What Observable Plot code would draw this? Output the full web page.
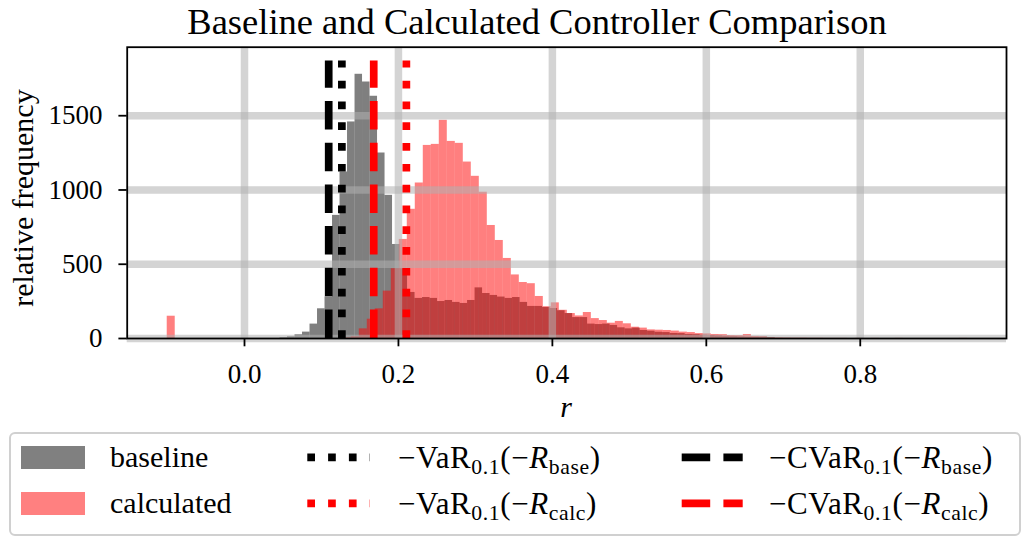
<!DOCTYPE html>
<html><head><meta charset="utf-8">
<script src="https://cdn.jsdelivr.net/npm/d3@7"></script>
<script src="https://cdn.jsdelivr.net/npm/@observablehq/plot@0.6"></script>
<style>
body{margin:0;background:#fff;font-family:"Liberation Serif",serif;color:#000;}
#wrap{width:1036px;height:538px;position:relative;overflow:hidden;}
#title{position:relative;height:44px;}
#title span{position:absolute;left:537px;top:4px;transform:translateX(-50%);font-size:36.5px;line-height:1;white-space:nowrap;}
#chart{height:384px;}
#chart svg{display:block;}
#legend{position:relative;height:110px;}
#legend .box{position:absolute;left:9px;top:3.5px;width:1012px;height:104.5px;border:2px solid #d0d0d0;border-radius:6px;box-sizing:border-box;background:rgba(255,255,255,0.8);}
#legend .patch{position:absolute;left:21px;width:64px;height:22.7px;}
#legend .txt{position:absolute;font-size:30px;line-height:1;white-space:nowrap;transform:translateY(-50%);}
#legend .math{font-size:31px;letter-spacing:0.6px;}
#legend sub{font-size:0.7em;vertical-align:-0.3em;line-height:0;}
#legend svg{position:absolute;overflow:visible;}
</style></head>
<body><div id="wrap">
<div id="title"><span>Baseline and Calculated Controller Comparison</span></div>
<div id="chart"></div>
<div id="legend"></div>
</div>
<script>
// ---- data ----
const baselineStart = 0.04613;
const baselineWidth = 0.009747;
const baselineCounts = [5, 12, 25, 43, 97, 200, 280, 829, 1121, 1458, 1779, 1727, 1631, 1249, 964, 633, 470, 310,
  270, 276, 270, 249, 256, 243, 236, 256, 341, 303, 290, 279, 270, 276, 243, 216, 216, 209, 202, 187, 168, 141, 141,
  97, 94, 97, 88, 72, 65, 70, 54, 49, 42, 40, 34, 33, 27, 26, 22, 20, 18, 15, 13, 11, 9, 8, 9, 7];
const calcStart = -0.1004;
const calcWidth = 0.010396;
const calcCounts = [150, 0, 0, 0, 0, 0, 0, 0, 0, 0, 0, 0, 0, 0, 0, 0, 0, 0, 0, 0, 0,
  0, 5, 12, 65, 130, 200, 319, 470, 667, 870, 1047, 1300, 1307, 1469, 1327, 1314, 1188, 1092, 985,
  761, 660, 539, 428, 377, 369, 283, 214, 240, 190, 168, 152, 175, 134, 121, 103, 115, 99, 76, 70,
  58, 56, 54, 50, 43, 40, 33, 31, 27, 26, 20, 19, 27, 14, 12, 6, 5, 4, 3, 3,
  2, 2, 1, 1, 1, 0, 1, 0, 1, 0, 0, 1, 0, 0, 0, 0, 0, 0, 0, 1];
const varBase = 0.1265, cvarBase = 0.1094, varCalc = 0.2103, cvarCalc = 0.1679;
const xTicks = [0, 0.2, 0.4, 0.6, 0.8];
const yTicks = [0, 500, 1000, 1500];
const xDomain = [-0.1524, 0.990];

// ---- build ----
const baseRows = baselineCounts.map((c, i) => ({x1: baselineStart + i * baselineWidth, x2: baselineStart + (i + 1) * baselineWidth, y: c}));
const calcRows = calcCounts.map((c, i) => ({x1: calcStart + i * calcWidth, x2: calcStart + (i + 1) * calcWidth, y: c}));
const lineTop = d3.max([...baselineCounts, ...calcCounts]) * 1.05;
const yTop = lineTop * 1.05;
const LW = 7.7, DASH = "28.5,13.2", DOT = "7.7,13.1";
const gridStyle = {stroke: "#b0b0b0", strokeOpacity: 0.55, strokeWidth: 7.5};

const plot = Plot.plot({
  width: 1036, height: 384,
  marginLeft: 126.7, marginRight: 30, marginTop: 2.7, marginBottom: 90,
  x: {domain: xDomain}, y: {domain: [0, yTop]},
  style: {fontFamily: "Liberation Serif", background: "transparent", color: "black"},
  marks: [
    Plot.rectY(baseRows, {x1: "x1", x2: "x2", y: "y", fill: "black", fillOpacity: 0.5}),
    Plot.rectY(calcRows, {x1: "x1", x2: "x2", y: "y", fill: "red", fillOpacity: 0.5}),
    Plot.gridX(xTicks, gridStyle),
    Plot.gridY(yTicks, gridStyle),
    Plot.ruleX([cvarBase], {y1: 0, y2: lineTop, stroke: "black", strokeWidth: LW, strokeDasharray: DASH}),
    Plot.ruleX([varBase], {y1: 0, y2: lineTop, stroke: "black", strokeWidth: LW, strokeDasharray: DOT}),
    Plot.ruleX([cvarCalc], {y1: 0, y2: lineTop, stroke: "red", strokeWidth: LW, strokeDasharray: DASH}),
    Plot.ruleX([varCalc], {y1: 0, y2: lineTop, stroke: "red", strokeWidth: LW, strokeDasharray: DOT}),
    Plot.frame({stroke: "black", strokeWidth: 1.8}),
    Plot.axisX(xTicks, {tickSize: 8.3, tickPadding: 17, tickFormat: d3.format(".1f"), fontSize: 27, strokeWidth: 1.8, label: null}),
    Plot.axisY(yTicks, {tickSize: 8.3, tickPadding: 16.5, tickFormat: d3.format("d"), fontSize: 27, strokeWidth: 1.8, label: null})
  ]
});
document.getElementById("chart").appendChild(plot);
const svg = d3.select(plot);
svg.append("text").attr("transform", "translate(33,154) rotate(-90)")
  .attr("text-anchor", "middle").attr("font-size", 30).attr("font-family", "Liberation Serif")
  .text("relative frequency");
svg.append("text").attr("x", 566).attr("y", 373).attr("text-anchor", "middle")
  .attr("font-size", 30).attr("font-style", "italic").attr("font-family", "Liberation Serif").text("r");

// ---- legend ----
const leg = d3.select("#legend");
leg.append("div").attr("class", "box");
const rows = [29.3, 75.3];
leg.append("div").attr("class", "patch").style("top", (rows[0] - 11.35) + "px").style("background", "#808080");
leg.append("div").attr("class", "patch").style("top", (rows[1] - 11.35) + "px").style("background", "#ff8080");
leg.append("div").attr("class", "txt").style("left", "110px").style("top", rows[0] + "px").text("baseline");
leg.append("div").attr("class", "txt").style("left", "110px").style("top", rows[1] + "px").text("calculated");
function legLine(x1, x2, y, color, dash) {
  const s = leg.append("svg").attr("width", 1).attr("height", 1).style("left", "0px").style("top", "0px");
  s.append("line").attr("x1", x1).attr("x2", x2).attr("y1", y).attr("y2", y)
    .attr("stroke", color).attr("stroke-width", LW).attr("stroke-dasharray", dash);
}
legLine(307.3, 370, rows[0], "black", DOT);
legLine(307.3, 370, rows[1], "red", DOT);
legLine(681.7, 742.7, rows[0], "black", DASH);
legLine(681.7, 742.7, rows[1], "red", DASH);
const labels = [
  [398, rows[0], "VaR", "base"], [398, rows[1], "VaR", "calc"],
  [769, rows[0], "CVaR", "base"], [769, rows[1], "CVaR", "calc"]
];
for (const [x, y, name, sub] of labels) {
  leg.append("div").attr("class", "txt math").style("left", x + "px").style("top", y + "px")
    .html(`\u2212${name}<sub>0.1</sub>(\u2212<i>R</i><sub>${sub}</sub>)`);
}
</script>
</body></html>
